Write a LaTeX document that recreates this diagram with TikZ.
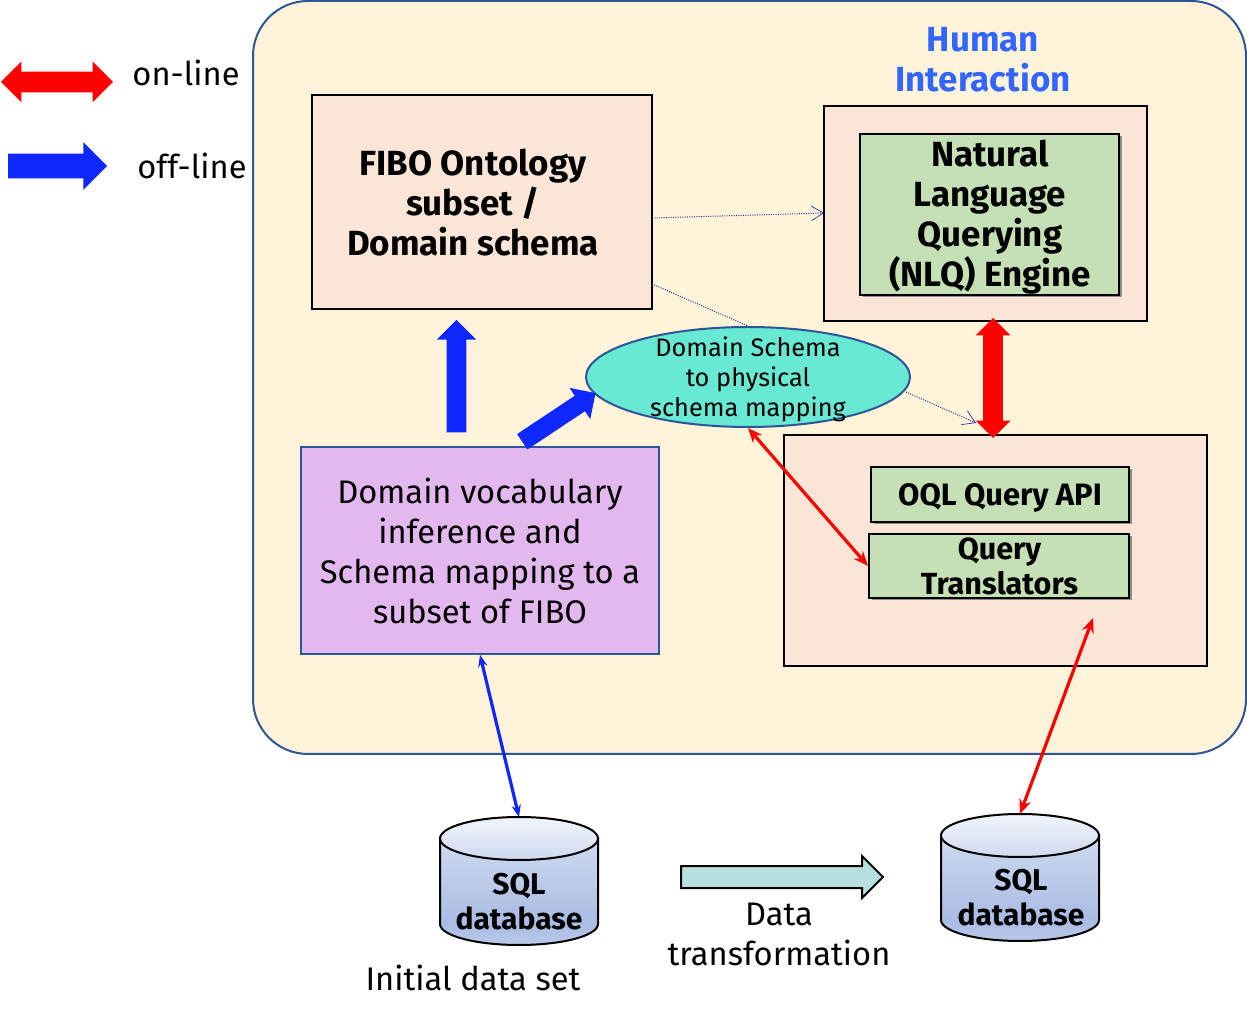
\documentclass[tikz,border=0pt]{standalone}
\usepackage{fontspec}
\setmainfont{Fira Sans}
\usetikzlibrary{arrows.meta,shapes.geometric,shapes.arrows,shadows}
\newlength{\du}
\setlength{\du}{0.75pt}
\definecolor{panelfill}{HTML}{FFF4D9}
\definecolor{panelline}{HTML}{2F5597}
\definecolor{peach}{HTML}{FBE5D6}
\definecolor{leaf}{HTML}{C5E0B4}
\definecolor{lilac}{HTML}{E2B8EF}
\definecolor{mint}{HTML}{67E9D3}
\definecolor{offblue}{HTML}{0F28FF}
\definecolor{humanblue}{HTML}{3366FF}
\definecolor{dotblue}{HTML}{2A2AA0}
\definecolor{paleteal}{HTML}{B7DFE0}
\definecolor{dbtop}{HTML}{F1F4FB}
\definecolor{dbmid}{HTML}{CFDAF0}
\definecolor{dblow}{HTML}{A9BCE3}
\definecolor{dbend}{HTML}{BAC9E9}
\pgfdeclareverticalshading{dbbodyshade}{100bp}{color(0bp)=(dbend);color(25bp)=(dbend);color(35bp)=(dblow);color(75bp)=(dbmid);color(100bp)=(dbmid)}
\tikzset{
  box/.style={draw=black,line width=1.5pt,fill=peach,rectangle,inner sep=0pt},
  greenbox/.style={draw=black,line width=1.5pt,fill=leaf,rectangle,inner sep=0pt,
    drop shadow={shadow xshift=2.5\du,shadow yshift=-2.5\du,fill=black!45,opacity=1}},
  boldtext/.style={font=\fontsize{26.2pt}{30pt}\selectfont\bfseries,align=center,inner sep=0pt},
  plaintext/.style={font=\fontsize{24.5pt}{30pt}\selectfont,align=center,inner sep=0pt},
  blockoff/.style={single arrow,fill=offblue,inner sep=0pt,text depth=0pt,single arrow head indent=0pt},
  blockon/.style={double arrow,fill=red,inner sep=0pt,text depth=0pt,double arrow head indent=0pt},
  redlink/.style={red,line width=2.4pt,{Stealth[length=11pt,width=9pt]}-{Stealth[length=11pt,width=9pt]}},
  bluelink/.style={offblue,line width=2.4pt,{Stealth[length=9pt,width=7pt]}-{Stealth[length=9pt,width=7pt]}},
  dotlink/.style={dotblue,line width=0.75pt,densely dotted,-{Straight Barb[length=9pt,width=11pt,line width=0.5pt]}},
  dbbody/.style={draw=black,line width=1.5pt,shading=dbbodyshade},
  dblid/.style={draw=black,line width=1.5pt,top color=dbtop,bottom color=dbmid},
}

\begin{document}
\begin{tikzpicture}
\pgftransformxscale{1.000000}
\pgftransformyscale{-1.000000}
\useasboundingbox (0\du,0\du) rectangle (1247\du,1019\du);

\node[draw=panelline,line width=1.5pt,fill=panelfill,rectangle,rounded corners=55\du,inner sep=0pt,
  minimum width=993\du,minimum height=753\du] (panel) at (749.5\du,377.5\du) {};

% legend
\node[blockon,minimum height=112\du,text height=20\du,double arrow head extend=10\du] (legendon) at (57\du,82\du) {};
\node[plaintext] (legendontext) at (186\du,73\du) {on-line};
\node[blockoff,minimum height=99\du,text height=24\du,single arrow head extend=11.5\du] (legendoff) at (51.5\du,166\du) {};
\node[plaintext] (legendofftext) at (192\du,166\du) {off-line};

\node[boldtext,text=humanblue] (human) at (983\du,60\du) {Human\\Interaction};

% boxes
\node[box,minimum width=340\du,minimum height=214\du] (fibo) at (482\du,202\du) {};
\node[boldtext] (fibotext) at (473\du,202.5\du) {FIBO Ontology\\subset /\\Domain schema};

\node[box,minimum width=323\du,minimum height=215\du] (nlqouter) at (985.5\du,213.5\du) {};
\node[greenbox,minimum width=259\du,minimum height=161\du] (nlq) at (989.5\du,214.5\du) {};
\node[boldtext] (nlqtext) at (990\du,217.5\du) {Natural\\Language\\Querying\\(NLQ) Engine};

\node[box,minimum width=423\du,minimum height=231\du] (queryouter) at (995.5\du,550.5\du) {};
\node[greenbox,minimum width=258\du,minimum height=55\du] (oql) at (1000\du,494.5\du) {};
\node[boldtext,font=\fontsize{23.2pt}{26.25pt}\selectfont\bfseries] (oqltext) at (1000\du,498\du) {OQL Query API};
\node[greenbox,minimum width=260\du,minimum height=64\du] (translators) at (999\du,566\du) {};
\node[boldtext,font=\fontsize{22.9pt}{26.25pt}\selectfont\bfseries] (translatorstext) at (999.5\du,566.5\du) {Query\\Translators};

\node[draw=panelline,line width=1.25pt,fill=lilac,rectangle,inner sep=0pt,
  minimum width=358\du,minimum height=207\du] (vocab) at (480\du,550.5\du) {};
\node[plaintext] (vocabtext) at (480\du,551\du) {Domain vocabulary\\inference and\\Schema mapping to a\\subset of FIBO};

\node[ellipse,draw=panelline,line width=1.5pt,fill=mint,inner sep=0pt,
  minimum width=324\du,minimum height=100\du] (mapping) at (748\du,377\du) {};
\node[plaintext,font=\fontsize{19pt}{22.5pt}\selectfont] (mappingtext) at (748\du,379\du) {Domain Schema\\to physical\\schema mapping};

% block arrows
\node[blockoff,rotate=90,minimum height=112.5\du,text height=19\du,single arrow head extend=10\du] (offup) at (456.5\du,381\du) {};
\node[blockoff,rotate=33.6,minimum height=88\du,text height=18\du,single arrow head extend=9.5\du] (offdiag) at (555\du,420\du) {};
\node[blockon,rotate=90,minimum height=120\du,text height=19\du,double arrow head extend=7.5\du] (onvert) at (993\du,378\du) {};

% dotted links
\coordinate (fibooutone) at (652\du,218\du);
\coordinate (nlqin) at (824\du,213\du);
\coordinate (fibooutwo) at (652\du,284\du);
\coordinate (mappingout) at (906\du,392\du);
\coordinate (queryin) at (976\du,423\du);
\draw[dotlink] (fibooutone) -- (nlqin);
\draw[dotblue,line width=0.75pt,densely dotted] (fibooutwo) -- (mapping.north);
\draw[dotlink] (mappingout) -- (queryin);

% databases
\draw[dbbody] (440\du,838\du)--(440\du,924\du) arc[start angle=180,end angle=0,x radius=79\du,y radius=21\du]--(598\du,838\du)--cycle;
\draw[dblid] (519\du,838.5\du) ellipse[x radius=79\du,y radius=21.5\du];
\coordinate (dbinit) at (519\du,817\du);
\node[boldtext,font=\fontsize{22.5pt}{26.25pt}\selectfont\bfseries] (dbinittext) at (519\du,901.5\du) {SQL\\database};
\node[plaintext] (initial) at (473\du,978\du) {Initial data set};

\draw[dbbody] (941\du,835\du)--(941\du,920\du) arc[start angle=180,end angle=0,x radius=79\du,y radius=21\du]--(1099\du,835\du)--cycle;
\draw[dblid] (1020\du,835.5\du) ellipse[x radius=79\du,y radius=21.5\du];
\coordinate (dbtarget) at (1020\du,814\du);
\node[boldtext,font=\fontsize{22.5pt}{26.25pt}\selectfont\bfseries] (dbtargettext) at (1021\du,897.5\du) {SQL\\database};

\node[single arrow,draw=black,line width=1.5pt,fill=paleteal,inner sep=0pt,text depth=0pt,text height=20\du,single arrow head extend=10\du,single arrow head indent=0pt,
  minimum height=202\du] (transform) at (776.5\du,877\du) {};
\node[plaintext] (transformtext) at (779\du,934\du) {Data\\transformation};

% thin links
\coordinate (queryout) at (1093\du,618\du);
\draw[redlink] (mapping.south) -- (translators.west);
\draw[redlink] (queryout) -- (dbtarget);
\draw[bluelink] (vocab.south) -- (dbinit);
\end{tikzpicture}
\end{document}
